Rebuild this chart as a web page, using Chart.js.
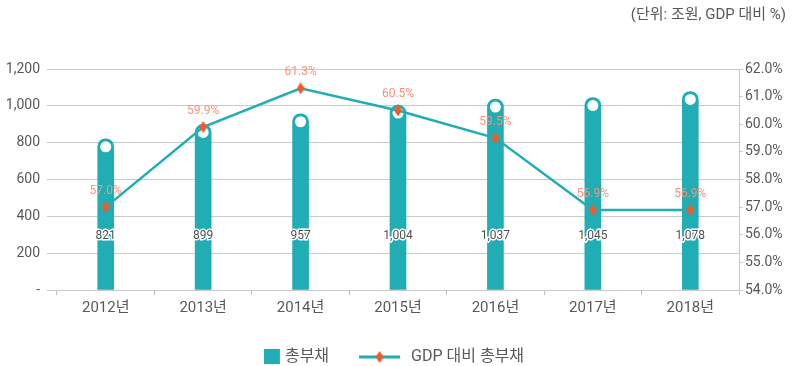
<!DOCTYPE html>
<html lang="ko">
<head>
<meta charset="utf-8">
<title>총부채 추이</title>
<script src="https://cdn.jsdelivr.net/npm/chart.js@4.4.1/dist/chart.umd.min.js"></script>
<style>
  html, body { margin: 0; padding: 0; background: #fff; }
  #wrap { width: 792px; height: 366px; }
</style>
</head>
<body>
<div id="wrap"><canvas id="debtChart" width="792" height="366"></canvas></div>
<script>
const years = ['2012년', '2013년', '2014년', '2015년', '2016년', '2017년', '2018년'];
const totalDebt = [821, 899, 957, 1004, 1037, 1045, 1078];   // 조원
const debtToGdp = [57.0, 59.9, 61.3, 60.5, 59.5, 56.9, 56.9]; // GDP 대비 %
const debtTicks = [0, 200, 400, 600, 800, 1000, 1200];
const ratioTicks = [54, 55, 56, 57, 58, 59, 60, 61, 62];

const TEAL = '#21adb4';
const ORANGE = '#ef5b2d';
const LABEL_ORANGE = '#f7937a';
const GRID = '#cacaca';
const TEXT = '#595959';
const FONT = 'Roboto, "Noto Sans CJK KR", sans-serif';

Chart.defaults.font.family = FONT;
Chart.defaults.color = TEXT;

// 세로로 긴 다이아몬드 마커
function diamond(w, h, color) {
  const c = document.createElement('canvas');
  c.width = w;
  c.height = h;
  const g = c.getContext('2d');
  g.fillStyle = color;
  g.beginPath();
  g.moveTo(w / 2, 0);
  g.lineTo(w, h / 2);
  g.lineTo(w / 2, h);
  g.lineTo(0, h / 2);
  g.closePath();
  g.fill();
  return c;
}
const marker = diamond(8, 12, ORANGE);

// 막대 머리의 흰 원
const barCaps = {
  id: 'barCaps',
  afterDatasetDraw(chart, args) {
    if (args.index !== 0) return;
    const ctx = chart.ctx;
    args.meta.data.forEach((bar) => {
      ctx.save();
      ctx.fillStyle = '#fff';
      ctx.beginPath();
      ctx.arc(bar.x, bar.y + 8, 5.5, 0, Math.PI * 2);
      ctx.fill();
      ctx.restore();
    });
  },
};

// 값 라벨
const valueLabels = {
  id: 'valueLabels',
  afterDatasetsDraw(chart) {
    const ctx = chart.ctx;
    const bars = chart.getDatasetMeta(0).data;
    const points = chart.getDatasetMeta(1).data;
    ctx.save();
    ctx.textAlign = 'center';
    ctx.textBaseline = 'middle';
    ctx.font = '12px ' + FONT;
    bars.forEach((bar, i) => {
      const txt = totalDebt[i].toLocaleString('en-US');
      const y = chart.chartArea.bottom - 54;
      ctx.lineWidth = 3;
      ctx.strokeStyle = '#fff';
      ctx.strokeText(txt, bar.x, y);
      ctx.fillStyle = '#505050';
      ctx.fillText(txt, bar.x, y);
    });
    points.forEach((pt, i) => {
      ctx.fillStyle = LABEL_ORANGE;
      ctx.fillText(debtToGdp[i].toFixed(1) + '%', pt.x, pt.y - 16);
    });
    ctx.restore();
  },
};

// 하단 범례
const bottomLegend = {
  id: 'bottomLegend',
  afterDraw(chart) {
    const ctx = chart.ctx;
    const names = chart.data.datasets.map((d) => d.label);
    ctx.save();
    ctx.font = '16px ' + FONT;
    ctx.textBaseline = 'middle';
    const w0 = ctx.measureText(names[0]).width;
    const w1 = ctx.measureText(names[1]).width;
    const total = 16 + 5 + w0 + 30 + 41 + 11 + w1;
    let x = chart.width / 2 - 2 - total / 2;
    const y = chart.height - 9;

    ctx.fillStyle = TEAL;
    ctx.fillRect(x, y - 8, 16, 15);
    x += 21;
    ctx.fillStyle = TEXT;
    ctx.fillText(names[0], x, y);
    x += w0 + 30;

    ctx.strokeStyle = TEAL;
    ctx.lineWidth = 3;
    ctx.beginPath();
    ctx.moveTo(x, y);
    ctx.lineTo(x + 41, y);
    ctx.stroke();
    ctx.drawImage(marker, x + 20.5 - 4, y - 6);
    x += 52;
    ctx.fillStyle = TEXT;
    ctx.fillText(names[1], x, y);
    ctx.restore();
  },
};

const ctx = document.getElementById('debtChart');

new Chart(ctx, {
  data: {
    labels: years,
    datasets: [
      {
        type: 'bar',
        label: '총부채',
        data: totalDebt,
        yAxisID: 'y',
        backgroundColor: TEAL,
        barThickness: 16,
        borderRadius: 8,
        borderSkipped: 'bottom',
        order: 2,
      },
      {
        type: 'line',
        label: 'GDP 대비 총부채',
        data: debtToGdp,
        yAxisID: 'y1',
        borderColor: TEAL,
        borderWidth: 2.5,
        pointStyle: marker,
        pointRadius: 6,
        tension: 0,
        order: 1,
      },
    ],
  },
  options: {
    responsive: false,
    devicePixelRatio: 1,
    animation: false,
    layout: {
      padding: { left: 0, right: 6, top: 0, bottom: 52 },
    },
    plugins: {
      legend: { display: false },
      tooltip: { enabled: false },
      title: {
        display: true,
        text: '(단위: 조원, GDP 대비 %)',
        align: 'end',
        color: TEXT,
        font: { size: 15, weight: 'normal' },
        padding: { top: 6, bottom: 45 },
      },
    },
    scales: {
      x: {
        afterFit: (axis) => {
          axis.height = 24;
        },
        grid: {
          offset: true,
          drawOnChartArea: false,
          tickLength: 5,
          color: '#bdbdbd',
        },
        border: { color: GRID },
        ticks: { font: { size: 15 }, padding: 4, color: TEXT },
      },
      y: {
        position: 'left',
        min: 0,
        max: 1200,
        afterBuildTicks: (axis) => {
          axis.ticks = debtTicks.map((v) => ({ value: v }));
        },
        afterFit: (axis) => {
          axis.width = 57;
        },
        grid: { color: GRID, tickLength: 10 },
        border: { display: false },
        ticks: {
          font: { size: 14 },
          padding: 7,
          color: TEXT,
          callback: (v) => (v === 0 ? '-' : v.toLocaleString('en-US')),
        },
      },
      y1: {
        position: 'right',
        min: 54,
        max: 62,
        afterBuildTicks: (axis) => {
          axis.ticks = ratioTicks.map((v) => ({ value: v }));
        },
        afterFit: (axis) => {
          axis.width = 47;
        },
        grid: { drawOnChartArea: false, tickLength: 4, color: GRID },
        border: { display: true, color: GRID },
        ticks: {
          font: { size: 14 },
          padding: 2,
          color: TEXT,
          callback: (v) => v.toFixed(1) + '%',
        },
      },
    },
  },
  plugins: [barCaps, valueLabels, bottomLegend],
});
</script>
</body>
</html>
